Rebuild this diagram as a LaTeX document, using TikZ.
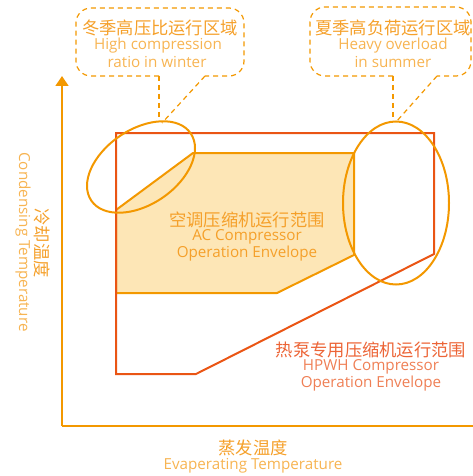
\documentclass[tikz,border=0pt]{standalone}
\usepackage{fontspec}
\setmainfont{Open Sans}
\newfontfamily\cjk{Noto Sans CJK SC}
\usetikzlibrary{arrows.meta,shapes.geometric}
\definecolor{orng}{HTML}{F39800}
\definecolor{orngtxt}{HTML}{F5A02A}
\definecolor{orngen}{HTML}{F7B452}
\definecolor{redo}{HTML}{EA5514}
\definecolor{redtxt}{HTML}{EC6436}
\definecolor{reden}{HTML}{EF7F55}
\definecolor{acfill}{HTML}{FDE6B6}
\begin{document}
\begin{tikzpicture}[x=1pt,y=-1pt,
  axisline/.style={draw=orng,line width=1.4pt},
  hpwhline/.style={draw=redo,line width=2pt,line join=miter},
  acline/.style={draw=orng,fill=acfill,line width=2pt,line join=miter},
  zone/.style={ellipse,draw=orng,line width=2pt,inner sep=0pt},
  callout/.style={draw=orng,line width=1.2pt,dash pattern=on 5pt off 4pt},
  zh/.style={inner sep=0pt,font=\cjk\fontsize{17.3}{17.3}\selectfont},
  en/.style={inner sep=0pt,font=\fontsize{15.2}{17}\selectfont}]
\useasboundingbox (0,0) rectangle (473,476);
% axes
\coordinate (o) at (62,426);
\coordinate (ytip) at (62,76);
\coordinate (xend) at (473,426);
\draw[axisline,-{Triangle[width=13pt,length=10pt]}] (o) -- (ytip);
\draw[axisline] (o) -- (xend);
% AC envelope
\draw[acline] (193,153) -- (354,153) -- (354,255) -- (277,293) -- (116,293) -- (116,210) -- cycle;
% HPWH envelope
\draw[hpwhline] (116,133) -- (434,133) -- (434,254) -- (196,374) -- (116,374) -- cycle;
% zones
\node[zone,minimum width=120pt,minimum height=75pt,rotate=34] (winter) at (141,167) {};
\node[zone,minimum width=106pt,minimum height=163pt] (summer) at (396,203) {};
% callouts
\coordinate (wa) at (159,76);
\coordinate (wb) at (205,76);
\coordinate (wt) at (159,122);
\coordinate (wt2) at (162,123);
\draw[callout,rounded corners=15pt] (wa) -- (76,76) -- (76,8) -- (244,8) -- (244,76) -- (wb);
\draw[callout] (wa) -- (wt);
\draw[callout] (wb) -- (wt2);
\coordinate (sa) at (393,76);
\coordinate (sb) at (437,76);
\coordinate (st) at (393,121);
\coordinate (st2) at (396,122);
\draw[callout,rounded corners=15pt] (sa) -- (310,76) -- (310,7) -- (471,7) -- (471,76) -- (sb);
\draw[callout] (sa) -- (st);
\draw[callout] (sb) -- (st2);
% callout texts
\node[zh,text=orngtxt] (w1) at (160,28) {冬季高压比运行区域};
\node[en,text=orngen] (w2) at (158,46) {High compression};
\node[en,text=orngen] (w3) at (157,62) {ratio in winter};
\node[zh,text=orngtxt] (s1) at (393,28) {夏季高负荷运行区域};
\node[en,text=orngen] (s2) at (393,46) {Heavy overload};
\node[en,text=orngen] (s3) at (393,62) {in summer};
% envelope texts
\node[zh,text=orngtxt] (a1) at (247,220) {空调压缩机运行范围};
\node[en,text=orngtxt] (a2) at (247,237) {AC Compressor};
\node[en,text=orngtxt] (a3) at (247,254) {Operation Envelope};
\node[zh,text=redtxt] (h1) at (371,350) {热泵专用压缩机运行范围};
\node[en,text=reden] (h2) at (371,367) {HPWH Compressor};
\node[en,text=reden] (h3) at (371,384) {Operation Envelope};
% axis labels
\node[zh,text=orngtxt] (x1) at (253,448) {蒸发温度};
\node[en,text=orngen] (x2) at (253,466) {Evaperating Temperature};
\node[zh,text=orngtxt,rotate=-90] (y1) at (42,243) {冷却温度};
\node[en,text=orngen,rotate=-90] (y2) at (23,242) {Condensing Temperature};
\end{tikzpicture}
\end{document}
